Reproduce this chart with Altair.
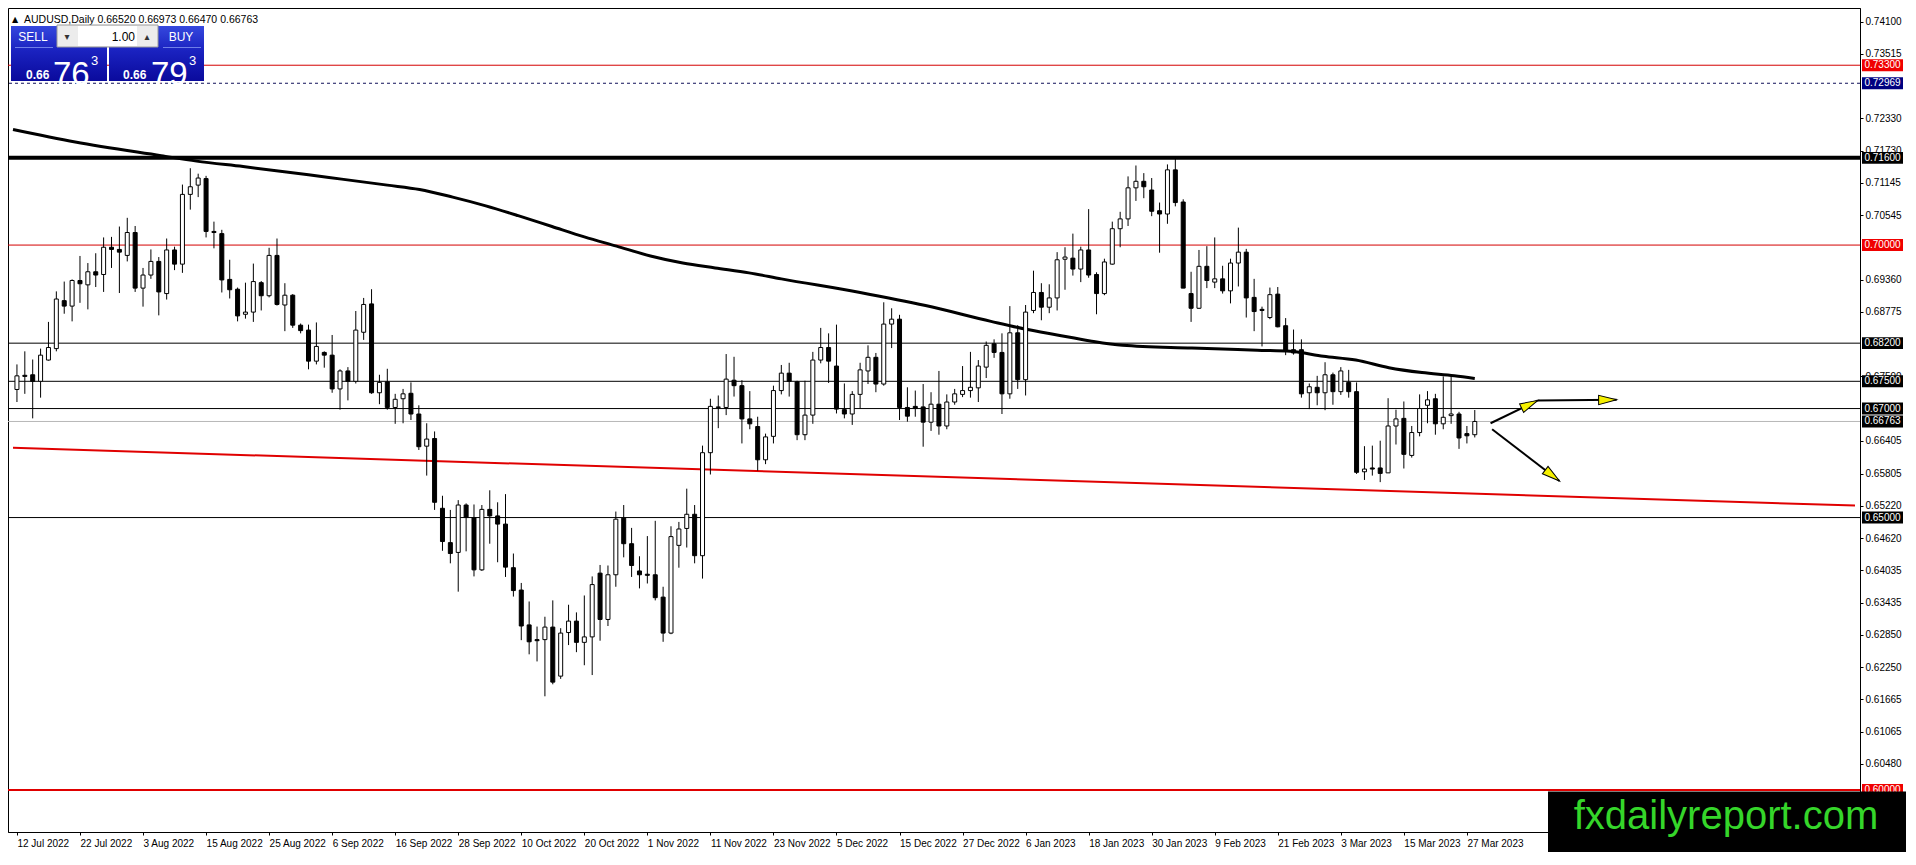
import math
import altair as alt
import pandas as pd

# ---------------- data (AUDUSD, Daily) ----------------
# bar 0 = 12 Jul 2022, one bar per trading day
opens = [
    .6735, .6761, .6762, .6750, .6789, .6810, .6898, .6888, .6935, .6927,
    .6951, .6946, .6996, .6992, .6981, .7023, .6921, .6945, .6970, .6911,
    .6991, .6965, .7093, .7110, .7122, .7025, .7021, .6937, .6919, .6873,
    .6877, .6931, .6907, .6981, .6890, .6908, .6853, .6844, .6787, .6803,
    .6798, .6736, .6769, .6750, .6840, .6892, .6729, .6749, .6702, .6718,
    .6728, .6690, .6631, .6645, .6517, .6454, .6436, .6523, .6500, .6404,
    .6515, .6503, .6488, .6408, .6367, .6303, .6276, .6276, .6299, .6209,
    .6289, .6310, .6271, .6281, .6398, .6313, .6395, .6499, .6452, .6402,
    .6396, .6395, .6354, .6288, .6449, .6480, .6506, .6430, .6619, .6702,
    .6702, .6752, .6742, .6681, .6667, .6606, .6649, .6733, .6765, .6749,
    .6652, .6688, .6789, .6812, .6778, .6698, .6690, .6726, .6769, .6794,
    .6745, .6855, .6864, .6702, .6704, .6703, .6675, .6708, .6668, .6712,
    .6726, .6733, .6738, .6776, .6819, .6803, .6727, .6839, .6753, .6880,
    .6913, .6886, .6903, .6974, .6976, .6956, .6991, .6946, .6911, .6965,
    .7030, .7048, .7105, .7117, .7101, .7063, .7057, .7138, .7079, .6911,
    .6884, .6961, .6932, .6938, .6916, .6967, .6987, .6904, .6882, .6867,
    .6910, .6852, .6808, .6808, .6729, .6739, .6729, .6762, .6731, .6748,
    .6731, .6584, .6591, .6591, .6582, .6668, .6682, .6614, .6656, .6706,
    .6718, .6672, .6687, .6690, .6654, .66520,
]
highs = [
    .6781, .6805, .6790, .6810, .6859, .6915, .6933, .6937, .6980, .6967,
    .6985, .7014, .7015, .7034, .7050, .7035, .6958, .6992, .6978, .7012,
    .6997, .7111, .7141, .7131, .7127, .7043, .7028, .6973, .6922, .6931,
    .6966, .6934, .6995, .7012, .6930, .6910, .6856, .6854, .6858, .6805,
    .6835, .6772, .6776, .6879, .6903, .6919, .6762, .6773, .6727, .6736,
    .6748, .6706, .6673, .6658, .6540, .6514, .6532, .6526, .6524, .6523,
    .6550, .6528, .6543, .6434, .6380, .6346, .6300, .6318, .6348, .6297,
    .6340, .6326, .6357, .6392, .6413, .6412, .6511, .6523, .6481, .6429,
    .6466, .6494, .6373, .6484, .6492, .6553, .6523, .6632, .6718, .6724,
    .6800, .6795, .6752, .6732, .6685, .6654, .6742, .6780, .6784, .6751,
    .6751, .6804, .6848, .6838, .6854, .6746, .6732, .6784, .6816, .6802,
    .6895, .6884, .6872, .6739, .6733, .6745, .6730, .6769, .6726, .6736,
    .6778, .6804, .6789, .6823, .6827, .6838, .6888, .6853, .6890, .6953,
    .6930, .6928, .6987, .6996, .7021, .6997, .7066, .6950, .6975, .7043,
    .7061, .7126, .7146, .7132, .7123, .7078, .7148, .7162, .7084, .6951,
    .6991, .6998, .7014, .6962, .6975, .7032, .6993, .6938, .6887, .6922,
    .6923, .6866, .6845, .6827, .6746, .6760, .6785, .6766, .6776, .6771,
    .6748, .6631, .6632, .6641, .6719, .6698, .6713, .6668, .6726, .6732,
    .6727, .6759, .6759, .6694, .6668, .66973,
]
lows = [
    .6712, .6727, .6682, .6720, .6788, .6805, .6874, .6860, .6894, .6882,
    .6923, .6914, .6958, .6912, .6970, .6914, .6887, .6938, .6871, .6900,
    .6954, .6949, .7065, .7088, .7014, .6994, .6913, .6902, .6860, .6865,
    .6859, .6880, .6904, .6889, .6842, .6848, .6838, .6772, .6781, .6775,
    .6729, .6698, .6715, .6746, .6826, .6727, .6708, .6698, .6672, .6673,
    .6679, .6624, .6577, .6514, .6439, .6416, .6364, .6438, .6392, .6402,
    .6452, .6418, .6391, .6355, .6275, .6249, .6236, .6172, .6194, .6204,
    .6266, .6253, .6229, .6211, .6274, .6301, .6373, .6427, .6391, .6370,
    .6379, .6348, .6272, .6286, .6408, .6445, .6416, .6388, .6579, .6664,
    .6688, .6722, .6636, .6662, .6586, .6598, .6636, .6726, .6722, .6642,
    .6642, .6672, .6783, .6747, .6691, .6682, .6670, .6700, .6745, .6730,
    .6742, .6811, .6679, .6676, .6685, .6630, .6659, .6652, .6662, .6707,
    .6721, .6720, .6712, .6756, .6793, .6690, .6718, .6736, .6724, .6875,
    .6862, .6875, .6880, .6918, .6944, .6932, .6940, .6873, .6908, .6964,
    .6996, .7035, .7081, .7086, .7053, .6986, .7039, .7071, .6921, .6859,
    .6883, .6921, .6921, .6911, .6893, .6924, .6867, .6842, .6814, .6864,
    .6849, .6798, .6799, .6720, .6699, .6706, .6697, .6707, .6725, .6720,
    .6580, .6569, .6577, .6565, .6582, .6634, .6590, .6610, .6649, .6673,
    .6652, .6662, .6672, .6626, .6636, .66470,
]
closes = [
    .6760, .6759, .6750, .6798, .6812, .6901, .6888, .6935, .6929, .6951,
    .6945, .6996, .6992, .6987, .7023, .6921, .6945, .6970, .6914, .6991,
    .6965, .7093, .7107, .7123, .7025, .7023, .6936, .6918, .6870, .6877,
    .6933, .6907, .6981, .6891, .6908, .6853, .6843, .6787, .6814, .6798,
    .6736, .6769, .6750, .6844, .6891, .6729, .6748, .6702, .6717, .6727,
    .6690, .6630, .6644, .6528, .6456, .6434, .6523, .6500, .6404, .6515,
    .6503, .6488, .6409, .6366, .6301, .6272, .6274, .6299, .6198, .6288,
    .6310, .6271, .6281, .6377, .6313, .6395, .6497, .6452, .6412, .6395,
    .6394, .6353, .6288, .6465, .6479, .6506, .6430, .6619, .6704, .6703,
    .6754, .6742, .6681, .6672, .6606, .6648, .6733, .6765, .6750, .6652,
    .6688, .6789, .6812, .6787, .6699, .6690, .6726, .6771, .6794, .6745,
    .6855, .6864, .6702, .6686, .6700, .6675, .6708, .6668, .6712, .6727,
    .6733, .6739, .6778, .6816, .6803, .6727, .6839, .6753, .6877, .6913,
    .6886, .6903, .6973, .6978, .6956, .6991, .6945, .6911, .6969, .7030,
    .7048, .7105, .7117, .7107, .7062, .7057, .7138, .7078, .6921, .6884,
    .6961, .6935, .6938, .6916, .6967, .6987, .6903, .6878, .6880, .6909,
    .6850, .6805, .6802, .6727, .6740, .6729, .6762, .6731, .6769, .6731,
    .6583, .6589, .6589, .6581, .6668, .6681, .6616, .6656, .6700, .6716,
    .6672, .6684, .6690, .6646, .6650, .66763,
]

date_labels = [
    "12 Jul 2022", "22 Jul 2022", "3 Aug 2022", "15 Aug 2022", "25 Aug 2022",
    "6 Sep 2022", "16 Sep 2022", "28 Sep 2022", "10 Oct 2022", "20 Oct 2022",
    "1 Nov 2022", "11 Nov 2022", "23 Nov 2022", "5 Dec 2022", "15 Dec 2022",
    "27 Dec 2022", "6 Jan 2023", "18 Jan 2023", "30 Jan 2023", "9 Feb 2023",
    "21 Feb 2023", "3 Mar 2023", "15 Mar 2023", "27 Mar 2023",
]
label_step = 8  # one date label every 8 bars

# moving average (thick black curve), read at sample bars
ma_bars = [-0.5, 7.4, 18.3, 22.8, 28.7, 37.0, 41.2, 47.0, 51.1, 55.3,
           59.5, 63.6, 67.9, 72.0, 76.1, 80.4, 84.5, 88.6, 92.9, 97.0,
           107.0, 115.3, 123.6, 127.9, 132.0, 136.2, 140.3, 149.1, 157.4, 161.6,
           165.8, 169.9, 174.1, 178.3, 182.4, 185.0]
ma_values = [0.7212, 0.7189, 0.7164, 0.7154, 0.7144, 0.7129, 0.7121, 0.7110, 0.7102, 0.7088,
             0.7072, 0.7054, 0.7034, 0.7015, 0.6998, 0.6980, 0.6967, 0.6958, 0.6949, 0.6938,
             0.6913, 0.6889, 0.6860, 0.6846, 0.6835, 0.6824, 0.6816, 0.6811, 0.6807, 0.6805,
             0.6796, 0.6789, 0.6775, 0.6766, 0.6760, 0.6755]

# red sloping trend line
trend_bars = [-0.5, 233.25]
trend_values = [0.6628, 0.6522]

# horizontal levels
level_prices = [0.73300, 0.72969, 0.71600, 0.70000, 0.68200, 0.67500, 0.67000, 0.66763, 0.65000, 0.60000]
level_line_colors = ["#d40000", "#10105a", "#000000", "#d40000", "#000000", "#000000",
                     "#000000", "#b8b8b8", "#000000", "#e00000"]
level_line_widths = [1, 1, 4, 1, 1, 1, 1, 1, 1, 2]
level_dashed = [False, True, False, False, False, False, False, False, False, False]
level_box_colors = ["#f00000", "#000080", "#000000", "#f00000", "#000000", "#000000",
                    "#000000", "#000000", "#000000", "#f00000"]

# price-axis tick labels that are visible (fully or partly) in the picture
y_ticks = [0.74100, 0.73515, 0.72330, 0.71730, 0.71145, 0.70545,
           0.69360, 0.68775, 0.67590, 0.66405, 0.65805, 0.65220,
           0.64620, 0.64035, 0.63435, 0.62850, 0.62250, 0.61665, 0.61065, 0.60480]

# drawn arrows (start bar/price -> end bar/price)
arrow_x1 = [187.0, 193.0, 187.2]
arrow_y1 = [0.6673, 0.6715, 0.6662]
arrow_x2 = [193.0, 203.0, 195.75]
arrow_y2 = [0.6715, 0.6716, 0.6567]

header_text = "AUDUSD,Daily  0.66520 0.66973 0.66470 0.66763"

# ---------------- layout ----------------
W, H = 1852, 824
X_DOM = [-0.5, 233.25]
Y_DOM = [0.5923, 0.7435]
FONT = "Liberation Sans"

xscale = alt.Scale(domain=X_DOM, nice=False, zero=False)
yscale = alt.Scale(domain=Y_DOM, nice=False, zero=False)
label_arr = "[" + ",".join("'" + d + "'" for d in date_labels) + "]"
xaxis = alt.Axis(values=[i * label_step for i in range(len(date_labels))],
                 labelExpr=label_arr + "[round(datum.value/" + str(label_step) + ")]",
                 orient="bottom", grid=False, domainColor="black", tickColor="black",
                 tickSize=3, labelAlign="left", labelPadding=3, labelFont=FONT,
                 labelFontSize=10, labelColor="black", labelOverlap=False,
                 labelBound=False, labelFlush=False, title=None)
yaxis = alt.Axis(values=y_ticks, format=".5f", orient="right", grid=False,
                 domainColor="black", tickColor="black", tickSize=3, labelPadding=2,
                 labelFont=FONT, labelFontSize=10, labelColor="black",
                 labelOverlap=False, labelBound=False, labelFlush=False, title=None)


def X(f):
    return alt.X(f + ":Q", scale=xscale, axis=xaxis)


def Y(f):
    return alt.Y(f + ":Q", scale=yscale, axis=yaxis)


one = alt.Data(values=[{}])


def deco_rect(x1, y1, x2, y2, **kw):
    return alt.Chart(one).mark_rect(**kw).encode(
        x=alt.value(x1), x2=alt.value(x2), y=alt.value(y1), y2=alt.value(y2))


def deco_text(txt, x, y, **kw):
    kw.setdefault("font", FONT)
    return alt.Chart(one).mark_text(text=txt, **kw).encode(x=alt.value(x), y=alt.value(y))


layers = []

# level lines
for p, c, w, d in zip(level_prices, level_line_colors, level_line_widths, level_dashed):
    kw = dict(color=c, strokeWidth=w)
    if d:
        kw["strokeDash"] = [3, 3]
    layers.append(alt.Chart(pd.DataFrame({"price": [p]})).mark_rule(**kw).encode(y=Y("price")))

# red trend line
tdf = pd.DataFrame({"bar": trend_bars, "price": trend_values})
layers.append(alt.Chart(tdf).mark_line(color="#e00000", strokeWidth=2).encode(x=X("bar"), y=Y("price")))

# moving average
mdf = pd.DataFrame({"bar": ma_bars, "ma": ma_values})
layers.append(alt.Chart(mdf).mark_line(color="black", strokeWidth=3, interpolate="monotone").encode(
    x=X("bar"), y=Y("ma")))

# candles
cdf = pd.DataFrame({"bar": list(range(len(opens))), "open": opens, "high": highs,
                    "low": lows, "close": closes})
layers.append(alt.Chart(cdf).mark_rule(color="black", strokeWidth=1).encode(
    x=X("bar"), y=Y("low"), y2="high"))
layers.append(alt.Chart(cdf).mark_bar(width=4, stroke="black", strokeWidth=1).encode(
    x=X("bar"), y=Y("open"), y2="close",
    color=alt.condition("datum.close >= datum.open", alt.value("white"), alt.value("black"))))

# arrows
ppb = W / (X_DOM[1] - X_DOM[0])
ppp = H / (Y_DOM[1] - Y_DOM[0])
adf = pd.DataFrame({"x1": arrow_x1, "y1": arrow_y1, "x2": arrow_x2, "y2": arrow_y2})
adf["angle"] = [math.degrees(math.atan2(-(b2 - b1) * ppp, (a2 - a1) * ppb)) % 360
                for a1, b1, a2, b2 in zip(arrow_x1, arrow_y1, arrow_x2, arrow_y2)]
layers.append(alt.Chart(adf).mark_rule(color="black", strokeWidth=2).encode(
    x=X("x1"), y=Y("y1"), x2="x2", y2="y2"))
layers.append(alt.Chart(adf).mark_point(
    shape="M0,0L-1,-0.26L-1,0.26Z", size=1296, filled=True, color="#f5f000",
    stroke="black", strokeWidth=1, opacity=1).encode(
    x=X("x2"), y=Y("y2"), angle=alt.Angle("angle:Q", scale=None)))

# price boxes on the right axis
bdf = pd.DataFrame({"price": level_prices, "box": level_box_colors,
                    "label": ["%.5f" % p for p in level_prices]})
layers.append(alt.Chart(bdf).mark_point(
    shape="M-1,-0.29L1,-0.29L1,0.29L-1,0.29Z", size=1681, filled=True, opacity=1,
    strokeWidth=0).encode(x=alt.value(W + 22.5), y=Y("price"),
                          color=alt.Color("box:N", scale=None)))
layers.append(alt.Chart(bdf).mark_text(font=FONT, fontSize=10, color="white",
                                       align="center", baseline="middle").encode(
    x=alt.value(W + 22.5), y=Y("price"), text="label:N"))

# header and one-click trading widgets
blue = alt.LinearGradient(gradient="linear",
                          stops=[alt.GradientStop(color="#3548de", offset=0),
                                 alt.GradientStop(color="#1a22c0", offset=0.45),
                                 alt.GradientStop(color="#0a0a9c", offset=1)],
                          x1=0, x2=0, y1=0, y2=1)
layers += [
    deco_text("\u25B2", 4, 12, fontSize=8, color="black", align="left", font="DejaVu Sans"),
    deco_text(header_text, 16, 12, fontSize=10.5, color="black", align="left"),
    deco_rect(3, 18, 99, 73, color=blue),
    deco_rect(101, 18, 196, 73, color=blue),
    deco_rect(49, 17, 150, 39, color="#ececec", stroke="#9a9a9a", strokeWidth=1),
    deco_rect(70, 18, 129, 38, color="white"),
    deco_rect(7, 39, 45, 40, color="#6f7fe8"),
    deco_rect(155, 39, 193, 40, color="#6f7fe8"),
    deco_text("\u25BE", 59, 29, fontSize=10, color="#333333", align="center",
              baseline="middle", font="DejaVu Sans"),
    deco_text("\u25B4", 139, 29, fontSize=10, color="#333333", align="center",
              baseline="middle", font="DejaVu Sans"),
    deco_text("SELL", 25, 29, fontSize=12, color="white", align="center", baseline="middle"),
    deco_text("BUY", 173, 29, fontSize=12, color="white", align="center", baseline="middle"),
    deco_text("1.00", 127, 29, fontSize=12, color="black", align="right", baseline="middle"),
    deco_text("0.66", 18, 67, fontSize=12, fontWeight="bold", color="white", align="left"),
    deco_text("76", 45, 67, fontSize=33, color="white", align="left"),
    deco_text("3", 83, 53, fontSize=13, color="white", align="left"),
    deco_text("0.66", 115, 67, fontSize=12, fontWeight="bold", color="white", align="left"),
    deco_text("79", 143, 67, fontSize=33, color="white", align="left"),
    deco_text("3", 181, 53, fontSize=13, color="white", align="left"),
]

# watermark
layers += [
    deco_rect(W - 312, 783.5, W + 46, H + 20, color="black"),
    deco_text("fxdailyreport.com", W - 134, 821, fontSize=40, color="#35d62a",
              align="center", baseline="alphabetic"),
]

chart = alt.layer(*layers).properties(
    width=W, height=H,
    autosize=alt.AutoSizeParams(type="none"),
    padding={"left": 0, "top": 0, "right": 46, "bottom": 20},
    background="white",
).configure_view(stroke="black", strokeWidth=1)

chart.save("out.html", embed_options={"renderer": "svg", "actions": False})
